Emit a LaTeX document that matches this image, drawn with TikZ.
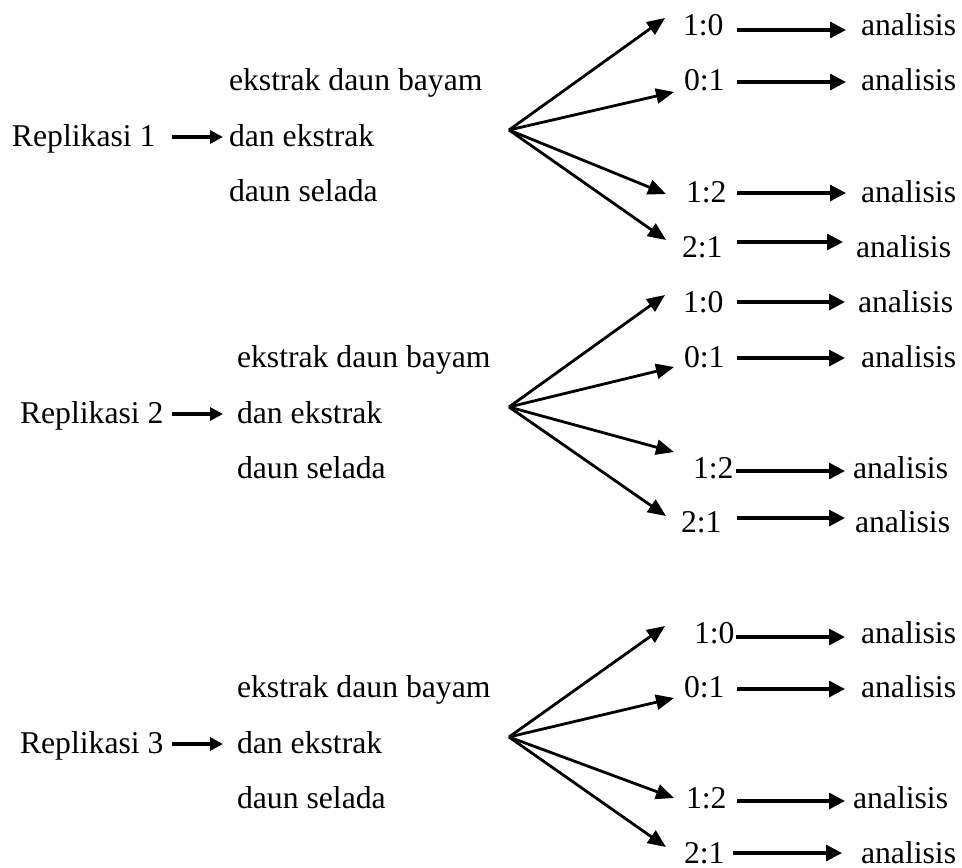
\documentclass[tikz,border=0pt]{standalone}
\usepackage{fontspec}
\setmainfont{Liberation Serif}
\usetikzlibrary{arrows.meta}
\begin{document}
\begin{tikzpicture}[x=1pt,y=-1pt,
  lbl/.style={font=\fontsize{31.7}{38}\selectfont, inner sep=0pt, outer sep=0pt, anchor=base west},
  harr/.style={line width=3.2pt, -{Triangle[length=16pt,width=16pt]}},
  larr/.style={line width=3.2pt, -{Triangle[length=13pt,width=13pt]}},
  farr/.style={line width=2.8pt, -{Triangle[length=18pt,width=15pt]}}]
\useasboundingbox (0,0) rectangle (962,868);

% ---------- Block 1 ----------
\node[lbl] (r1) at (12,146) {Replikasi 1};
\node[lbl] (t1) at (229,90) {ekstrak daun bayam};
\node[lbl] (d1) at (229,146) {dan ekstrak};
\node[lbl] (s1) at (229,201) {daun selada};
\coordinate (f1) at (509,130);
\node[lbl] (n1a) at (683,35) {1:0};
\node[lbl] (n1b) at (684,90) {0:1};
\node[lbl] (n1c) at (686,202) {1:2};
\node[lbl] (n1d) at (682,257) {2:1};
\node[lbl] (a1a) at (861,35) {analisis};
\node[lbl] (a1b) at (861,90) {analisis};
\node[lbl] (a1c) at (861,202) {analisis};
\node[lbl] (a1d) at (856,257) {analisis};
\draw[larr] ([shift={(16.5,-9)}]r1.base east) -- ([shift={(-6,-9)}]d1.base west);
\draw[farr] (f1) -- ([shift={(-18,-17)}]n1a.base west);
\draw[farr] (f1) -- ([shift={(-10,2)}]n1b.base west);
\draw[farr] (f1) -- ([shift={(-20,-8)}]n1c.base west);
\draw[farr] (f1) -- ([shift={(-16,-17)}]n1d.base west);
\draw[harr] ([shift={(13.5,-5)}]n1a.base east) -- ([shift={(-15,-5)}]a1a.base west);
\draw[harr] ([shift={(12.5,-8)}]n1b.base east) -- ([shift={(-15,-8)}]a1b.base west);
\draw[harr] ([shift={(10.5,-9)}]n1c.base east) -- ([shift={(-15,-9)}]a1c.base west);
\draw[harr] ([shift={(14.5,-15)}]n1d.base east) -- ([shift={(-13,-15)}]a1d.base west);

% ---------- Block 2 ----------
\node[lbl] (r2) at (20,423) {Replikasi 2};
\node[lbl] (t2) at (237,367) {ekstrak daun bayam};
\node[lbl] (d2) at (237,423) {dan ekstrak};
\node[lbl] (s2) at (237,478) {daun selada};
\coordinate (f2) at (509,407);
\node[lbl] (n2a) at (683,312) {1:0};
\node[lbl] (n2b) at (684,367) {0:1};
\node[lbl] (n2c) at (693,478) {1:2};
\node[lbl] (n2d) at (681,532) {2:1};
\node[lbl] (a2a) at (858,312) {analisis};
\node[lbl] (a2b) at (861,367) {analisis};
\node[lbl] (a2c) at (853,478) {analisis};
\node[lbl] (a2d) at (855,532) {analisis};
\draw[larr] ([shift={(8.5,-9)}]r2.base east) -- ([shift={(-14,-9)}]d2.base west);
\draw[farr] (f2) -- ([shift={(-18,-17)}]n2a.base west);
\draw[farr] (f2) -- ([shift={(-10,0)}]n2b.base west);
\draw[farr] (f2) -- ([shift={(-19,-26)}]n2c.base west);
\draw[farr] (f2) -- ([shift={(-15,-16)}]n2d.base west);
\draw[harr] ([shift={(13.5,-10)}]n2a.base east) -- ([shift={(-13,-10)}]a2a.base west);
\draw[harr] ([shift={(12.5,-9)}]n2b.base east) -- ([shift={(-16,-9)}]a2b.base west);
\draw[harr] ([shift={(2.5,-7)}]n2c.base east) -- ([shift={(-8,-7)}]a2c.base west);
\draw[harr] ([shift={(15.5,-14)}]n2d.base east) -- ([shift={(-10,-14)}]a2d.base west);

% ---------- Block 3 ----------
\node[lbl] (r3) at (20,753) {Replikasi 3};
\node[lbl] (t3) at (237,697) {ekstrak daun bayam};
\node[lbl] (d3) at (237,753) {dan ekstrak};
\node[lbl] (s3) at (237,808) {daun selada};
\coordinate (f3) at (509,737);
\node[lbl] (n3a) at (694,643) {1:0};
\node[lbl] (n3b) at (684,697) {0:1};
\node[lbl] (n3c) at (686,808) {1:2};
\node[lbl] (n3d) at (684,863) {2:1};
\node[lbl] (a3a) at (861,643) {analisis};
\node[lbl] (a3b) at (861,697) {analisis};
\node[lbl] (a3c) at (853,808) {analisis};
\node[lbl] (a3d) at (861,863) {analisis};
\draw[larr] ([shift={(8.5,-9)}]r3.base east) -- ([shift={(-14,-9)}]d3.base west);
\draw[farr] (f3) -- ([shift={(-29,-17)}]n3a.base west);
\draw[farr] (f3) -- ([shift={(-10,1)}]n3b.base west);
\draw[farr] (f3) -- ([shift={(-12,-10)}]n3c.base west);
\draw[farr] (f3) -- ([shift={(-18,-16)}]n3d.base west);
\draw[harr] ([shift={(1.5,-6)}]n3a.base east) -- ([shift={(-16,-6)}]a3a.base west);
\draw[harr] ([shift={(12.5,-8)}]n3b.base east) -- ([shift={(-16,-8)}]a3b.base west);
\draw[harr] ([shift={(10.5,-7)}]n3c.base east) -- ([shift={(-8,-7)}]a3c.base west);
\draw[harr] ([shift={(8.5,-10)}]n3d.base east) -- ([shift={(-19,-10)}]a3d.base west);
\end{tikzpicture}
\end{document}
